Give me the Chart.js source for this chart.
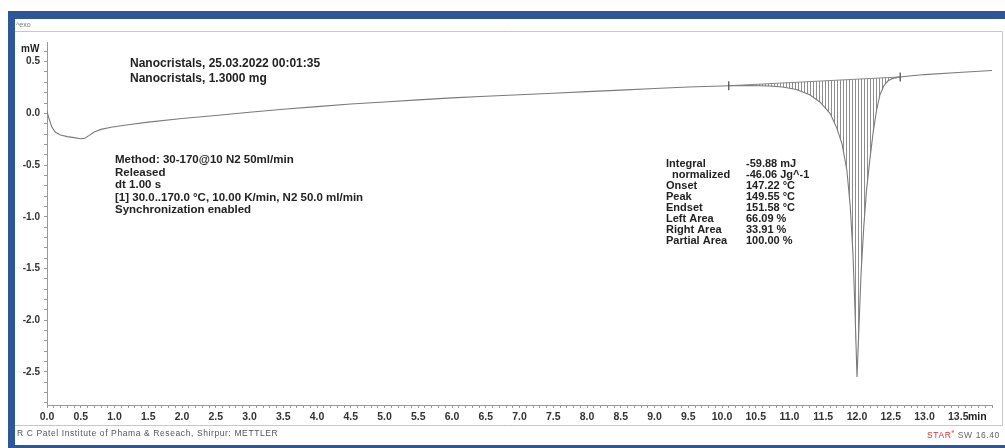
<!DOCTYPE html>
<html>
<head>
<meta charset="utf-8">
<script src="https://cdn.jsdelivr.net/npm/chart.js@4.4.1/dist/chart.umd.min.js"></script>
<style>
  html, body { margin: 0; padding: 0; background: #fff; }
  canvas { display: block; }
</style>
</head>
<body>
<canvas id="dsc" width="1005" height="448"></canvas>
<script>
// DSC heat-flow curve: time (min) vs heat flow (mW)
const timeMin = [
  0, 0.03, 0.07, 0.12, 0.2, 0.3, 0.4, 0.5, 0.56, 0.62, 0.7, 0.8, 0.95, 1.2, 1.5,
  2.0, 2.5, 3.0, 3.5, 4.0, 4.5, 5.0, 5.5, 6.0, 6.5, 7.0, 7.5, 8.0, 8.5, 9.0, 9.5,
  10.0, 10.1, 10.4, 10.7, 10.9, 11.1, 11.3, 11.45, 11.6, 11.7, 11.78, 11.85, 11.9,
  11.94, 11.97, 12.0, 12.03, 12.06, 12.1, 12.14, 12.19, 12.24, 12.29, 12.34, 12.4,
  12.46, 12.52, 12.6, 12.64, 12.7, 13.0, 13.5, 14.0
];
const heatFlow = [
  0.02, -0.05, -0.13, -0.18, -0.21, -0.225, -0.235, -0.245, -0.24, -0.215, -0.18, -0.155, -0.135, -0.11, -0.085,
  -0.05, -0.02, 0.01, 0.04, 0.065, 0.09, 0.11, 0.13, 0.15, 0.165, 0.18, 0.195, 0.21, 0.225, 0.24, 0.255,
  0.265, 0.267, 0.27, 0.265, 0.255, 0.23, 0.18, 0.11, 0.0, -0.14, -0.3, -0.55, -0.9,
  -1.35, -1.9, -2.55, -2.05, -1.55, -1.1, -0.75, -0.45, -0.18, 0.03, 0.18, 0.27,
  0.315, 0.335, 0.348, 0.352, 0.357, 0.375, 0.395, 0.415
];

// Integration limits and their baseline values
const integTime = [10.1, 12.64];
const integBase = [0.267, 0.352];

// Axis tick labels
const xTickLabels = ['0.0','0.5','1.0','1.5','2.0','2.5','3.0','3.5','4.0','4.5','5.0','5.5','6.0','6.5',
  '7.0','7.5','8.0','8.5','9.0','9.5','10.0','10.5','11.0','11.5','12.0','12.5','13.0','13.5'];
const yTickLabels = ['0.5','0.0','-0.5','-1.0','-1.5','-2.0','-2.5'];

// Annotation texts
const headerLines = ['Nanocristals, 25.03.2022 00:01:35', 'Nanocristals, 1.3000 mg'];
const methodLines = ['Method: 30-170@10 N2 50ml/min', 'Released', 'dt 1.00 s',
  '[1] 30.0..170.0 \u00B0C, 10.00 K/min, N2 50.0 ml/min', 'Synchronization enabled'];
const resultLabels = ['Integral', '  normalized', 'Onset', 'Peak', 'Endset', 'Left Area', 'Right Area', 'Partial Area'];
const resultValues = ['-59.88 mJ', '-46.06 Jg^-1', '147.22 \u00B0C', '149.55 \u00B0C', '151.58 \u00B0C', '66.09 %', '33.91 %', '100.00 %'];
const footerText = 'R C Patel Institute of Phama & Reseach, Shirpur: METTLER';

const FONT = '"Liberation Sans", Arial, sans-serif';

const curvePts = timeMin.map((t, i) => ({ x: t, y: heatFlow[i] }));
const hatchPts = curvePts.filter(p => p.x >= integTime[0] - 1e-9 && p.x <= integTime[1] + 1e-9);
const basePts = integTime.map((t, i) => ({ x: t, y: integBase[i] }));

const canvas = document.getElementById('dsc');
const ctx0 = canvas.getContext('2d');

// vertical hatching for the integrated area
function makeHatch() {
  const c = document.createElement('canvas');
  c.width = 3; c.height = 6;
  const g = c.getContext('2d');
  g.fillStyle = '#8e8e8e';
  g.fillRect(0, 0, 1, 6);
  return ctx0.createPattern(c, 'repeat');
}

function matches(v, list) {
  if (Math.abs(v * 2 - Math.round(v * 2)) > 1e-6) return '';
  const s = (Math.round(v * 2) / 2).toFixed(1);
  return list.includes(s) ? s : '';
}

function spaced(c, px) {
  if ('letterSpacing' in c) c.letterSpacing = px + 'px';
}

// window frame, title bar and footer
const framePlugin = {
  id: 'frame',
  beforeDraw(chart) {
    const c = chart.ctx;
    c.save();
    c.fillStyle = '#ffffff';
    c.fillRect(0, 0, 1005, 448);
    c.fillStyle = '#2d5797';
    c.fillRect(8, 11, 997, 8);
    c.fillRect(8, 11, 7, 437);
    c.fillRect(8, 445, 997, 3);
    c.strokeStyle = '#c8c8c8';
    c.lineWidth = 1;
    c.beginPath();
    c.moveTo(15, 31.5); c.lineTo(1002.5, 31.5);
    c.moveTo(1002.5, 31.5); c.lineTo(1002.5, 425.5);
    c.moveTo(15, 425.5); c.lineTo(1002.5, 425.5);
    c.stroke();
    c.fillStyle = '#777';
    c.font = '7px ' + FONT;
    c.textBaseline = 'middle';
    c.fillText('^exo', 16, 25);
    c.restore();
  },
  afterDraw(chart) {
    const c = chart.ctx;
    c.save();
    c.textBaseline = 'middle';
    c.fillStyle = '#222';
    // unit labels
    c.font = 'bold 10px ' + FONT;
    c.fillText('mW', 21, 49);
    c.font = 'bold 10.5px ' + FONT;
    c.fillText('min', 968, 417);
    // header
    c.font = 'bold 12px ' + FONT;
    headerLines.forEach((s, i) => c.fillText(s, 130, 64 + i * 15));
    // method block
    c.font = 'bold 11.5px ' + FONT;
    methodLines.forEach((s, i) => c.fillText(s, 115, 160 + i * 12.5));
    // results
    c.font = 'bold 11px ' + FONT;
    resultLabels.forEach((s, i) => c.fillText(s, 666, 164 + i * 11));
    resultValues.forEach((s, i) => c.fillText(s, 746, 164 + i * 11));
    // footer
    c.font = '8.5px ' + FONT;
    spaced(c, 0.6);
    c.fillStyle = '#555';
    c.fillText(footerText, 17, 434);
    let x = 927;
    c.fillStyle = '#e03030';
    c.fillText('STAR', x, 436);
    x += c.measureText('STAR').width;
    c.font = '5px ' + FONT;
    c.fillText('e', x, 432);
    x += c.measureText('e').width;
    c.font = '8.5px ' + FONT;
    c.fillStyle = '#666';
    c.fillText(' SW 16.40', x, 436);
    c.restore();
  }
};

new Chart(canvas, {
  type: 'scatter',
  data: {
    datasets: [
      { // integration baseline
        data: basePts, showLine: true, borderColor: '#8a8a8a', borderWidth: 1,
        pointRadius: 0, fill: false, order: 2
      },
      { // hatched area between curve and baseline
        data: hatchPts, showLine: true, borderWidth: 0, borderColor: 'rgba(0,0,0,0)',
        pointRadius: 0, fill: '-1', backgroundColor: makeHatch(), order: 3
      },
      { // measured curve
        data: curvePts, showLine: true, borderColor: '#7a7a7a', borderWidth: 1.1,
        pointRadius: 0, fill: false, tension: 0, order: 1
      },
      { // integration limit markers
        data: basePts, showLine: false, pointStyle: 'line', rotation: 90,
        pointRadius: 4.5, borderColor: '#555', borderWidth: 1.3, order: 0
      }
    ]
  },
  options: {
    responsive: false,
    animation: false,
    events: [],
    layout: { autoPadding: false, padding: { left: 15, right: 13, top: 42, bottom: 23 } },
    plugins: { legend: { display: false }, tooltip: { enabled: false } },
    scales: {
      x: {
        type: 'linear', min: 0, max: 14,
        afterFit(s) { s.height = 20; },
        border: { color: '#9a9a9a', width: 1 },
        grid: { drawOnChartArea: false, drawTicks: true, tickLength: 3, color: '#9a9a9a' },
        ticks: {
          stepSize: 0.1, autoSkip: false, maxRotation: 0, includeBounds: false, padding: 3,
          color: '#333', font: { family: FONT, size: 10.5, weight: 'bold' },
          callback: v => matches(v, xTickLabels)
        }
      },
      y: {
        type: 'linear', min: -2.82, max: 0.69,
        afterFit(s) { s.width = 32; },
        border: { color: '#9a9a9a', width: 1 },
        grid: { drawOnChartArea: false, drawTicks: true, tickLength: 3, color: '#9a9a9a' },
        ticks: {
          stepSize: 0.1, autoSkip: false, includeBounds: false, padding: 4,
          color: '#333', font: { family: FONT, size: 10, weight: 'bold' },
          callback: v => matches(v, yTickLabels)
        }
      }
    }
  },
  plugins: [framePlugin]
});
</script>
</body>
</html>
